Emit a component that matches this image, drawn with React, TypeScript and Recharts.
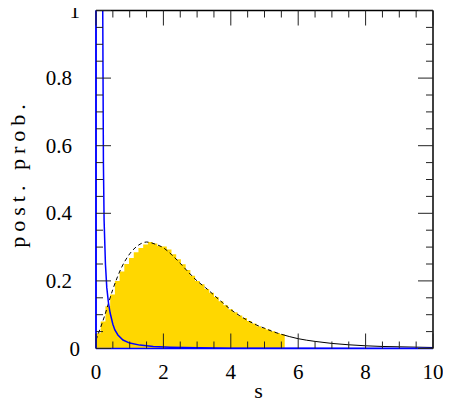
import React from 'react';
import { ComposedChart, Line, Area, XAxis, YAxis, Label } from 'recharts';

// posterior curve (black)
const postS = [0, 0.25, 0.5, 0.75, 1, 1.25, 1.5, 1.75, 2, 2.25, 2.5, 2.75, 3, 3.25, 3.5, 3.75, 4, 4.25, 4.5, 4.75, 5, 5.25, 5.5, 6, 6.5, 7, 7.5, 8, 8.5, 9, 9.5, 10];
const postProb = [0.025, 0.095, 0.175, 0.238, 0.28, 0.305, 0.315, 0.309, 0.298, 0.277, 0.252, 0.225, 0.2, 0.18, 0.158, 0.136, 0.115, 0.098, 0.083, 0.07, 0.06, 0.05, 0.042, 0.029, 0.021, 0.015, 0.011, 0.008, 0.006, 0.005, 0.004, 0.003];
const dashEnd = 5.5;

// histogram of samples (yellow), left bin edges + closing edge
const histEdges = [0, 0.14, 0.28, 0.42, 0.56, 0.7, 0.84, 0.98, 1.12, 1.26, 1.4, 1.54, 1.68, 1.82, 1.96, 2.1, 2.24, 2.38, 2.52, 2.66, 2.8, 2.94, 3.08, 3.22, 3.36, 3.5, 3.64, 3.78, 3.92, 4.06, 4.2, 4.34, 4.48, 4.62, 4.76, 4.9, 5.04, 5.18, 5.32, 5.46, 5.6];
const histProb = [0.045, 0.08, 0.125, 0.16, 0.2, 0.228, 0.25, 0.268, 0.285, 0.297, 0.308, 0.315, 0.311, 0.303, 0.302, 0.293, 0.279, 0.264, 0.249, 0.232, 0.215, 0.2, 0.19, 0.176, 0.165, 0.152, 0.14, 0.128, 0.116, 0.107, 0.098, 0.09, 0.081, 0.074, 0.066, 0.061, 0.056, 0.051, 0.046, 0.042];

// prior (blue)
const priorS = [0, 0.002, 0.19, 0.2, 0.22, 0.24, 0.28, 0.32, 0.37, 0.42, 0.5, 0.56, 0.65, 0.8, 1, 1.3, 1.7, 2.2, 3, 4, 6, 10];
const priorProb = [0, 100, 1.3, 1.0, 0.55, 0.38, 0.25, 0.18, 0.135, 0.105, 0.072, 0.055, 0.04, 0.025, 0.016, 0.01, 0.006, 0.004, 0.002, 0.001, 0.0005, 0];

const xTicks = [0, 0.5, 1, 1.5, 2, 2.5, 3, 3.5, 4, 4.5, 5, 5.5, 6, 6.5, 7, 7.5, 8, 8.5, 9, 9.5, 10];
const xMajor = [0, 2, 4, 6, 8, 10];
const yTicks = [0, 0.05, 0.1, 0.15, 0.2, 0.25, 0.3, 0.35, 0.4, 0.45, 0.5, 0.55, 0.6, 0.65, 0.7, 0.75, 0.8, 0.85, 0.9, 0.95, 1];
const yMajor = [0, 0.2, 0.4, 0.6, 0.8, 1];
const yLabels = ['0', '0.2', '0.4', '0.6', '0.8', '1'];

type Row = { s: number; hist?: number; postDash?: number; postSolid?: number; prior?: number };

const rowMap = new Map<number, Row>();
const put = (s: number, key: keyof Row, v: number) => {
  const k = Math.round(s * 1000) / 1000;
  const r = rowMap.get(k) ?? { s: k };
  (r as any)[key] = v;
  rowMap.set(k, r);
};
histEdges.forEach((s, i) => put(s, 'hist', histProb[Math.min(i, histProb.length - 1)]));
postS.forEach((s, i) => {
  if (s <= dashEnd) put(s, 'postDash', postProb[i]);
  if (s >= dashEnd) put(s, 'postSolid', postProb[i]);
});
priorS.forEach((s, i) => put(s, 'prior', priorProb[i]));
const data = Array.from(rowMap.values()).sort((a, b) => a.s - b.s);

const FONT = '"Liberation Serif", "DejaVu Serif", serif';
const TICK = '#222';
const MAJ = 15;
const MIN = 7;

const near = (list: number[], v: number) => list.findIndex((m) => Math.abs(m - v) < 1e-6);

const BottomTick = (props: any) => {
  const { x, y, payload } = props;
  const major = near(xMajor, payload.value) >= 0;
  return (
    <g>
      <line x1={x} x2={x} y1={y} y2={y - (major ? MAJ : MIN)} stroke={TICK} />
      {major &&
      <text x={x} y={y + 30} textAnchor="middle" fontFamily={FONT} fontSize={21} fill="#000">
          {payload.value}
        </text>
      }
    </g>);

};

const TopTick = (props: any) => {
  const { x, y, payload } = props;
  const major = near(xMajor, payload.value) >= 0;
  return <line x1={x} x2={x} y1={y} y2={y + (major ? MAJ : MIN)} stroke={TICK} />;
};

const LeftTick = (props: any) => {
  const { x, y, payload } = props;
  const idx = near(yMajor, payload.value);
  const major = idx >= 0;
  const label = major ? yLabels[idx] : '';
  return (
    <g>
      <line x1={x} x2={x + (major ? MAJ : MIN)} y1={y} y2={y} stroke={TICK} />
      {major &&
      <text x={label.length === 1 ? x - 16 : x - 24} y={y + 7} textAnchor="end" fontFamily={FONT} fontSize={21} fill="#000">
          {label}
        </text>
      }
    </g>);

};

const RightTick = (props: any) => {
  const { x, y, payload } = props;
  const major = near(yMajor, payload.value) >= 0;
  return <line x1={x} x2={x - (major ? MAJ : MIN)} y1={y} y2={y} stroke={TICK} />;
};

const XTitle = (props: any) => {
  const { x, y, width } = props.viewBox;
  return (
    <text x={x + width / 2 - 6} y={y + 49} textAnchor="middle" fontFamily={FONT} fontSize={22} fill="#000">
      s
    </text>);

};

const YTitle = (props: any) => {
  const { y, height } = props.viewBox;
  const cx = 25;
  const cy = y + height / 2 - 6;
  return (
    <text x={cx} y={cy} transform={`rotate(-90, ${cx}, ${cy})`} textAnchor="middle" fontFamily={FONT} fontSize={22} letterSpacing={5} fill="#000">
      post. prob.
    </text>);

};

const frame = { stroke: '#000', strokeWidth: 1.5 };
const blueFrame = { stroke: '#0000FF', strokeWidth: 1.5 };

export default function App() {
  return (
    <div style={{ width: 451, height: 404, margin: '-8px 0 0 -8px' }}>
      <ComposedChart width={451} height={404} data={data} margin={{ top: 9.5, right: 17, bottom: 54.5, left: 95 }}>
        <XAxis dataKey="s" type="number" domain={[0, 10]} ticks={xTicks} interval={0} height={1} tickSize={0} tickMargin={0} tickLine={false} axisLine={blueFrame} tick={BottomTick}>
          <Label content={XTitle} />
        </XAxis>
        <XAxis xAxisId="top" orientation="top" dataKey="s" type="number" domain={[0, 10]} ticks={xTicks} interval={0} height={1} tickSize={0} tickMargin={0} tickLine={false} axisLine={frame} tick={TopTick} />
        <YAxis type="number" domain={[0, 1]} allowDataOverflow ticks={yTicks} interval={0} width={1} tickSize={0} tickMargin={0} tickLine={false} axisLine={blueFrame} tick={LeftTick}>
          <Label content={YTitle} />
        </YAxis>
        <YAxis yAxisId="right" orientation="right" type="number" domain={[0, 1]} allowDataOverflow ticks={yTicks} interval={0} width={1} tickSize={0} tickMargin={0} tickLine={false} axisLine={frame} tick={RightTick} />
        <Area dataKey="hist" type="stepAfter" connectNulls fill="#FFD700" fillOpacity={1} stroke="none" isAnimationActive={false} dot={false} activeDot={false} />
        <Line dataKey="postDash" type="monotone" connectNulls stroke="#000" strokeWidth={1} strokeDasharray="4 3" dot={false} activeDot={false} isAnimationActive={false} />
        <Line dataKey="postSolid" type="monotone" connectNulls stroke="#000" strokeWidth={1} dot={false} activeDot={false} isAnimationActive={false} />
        <Line dataKey="prior" type="linear" connectNulls stroke="#0000FF" strokeWidth={1.5} dot={false} activeDot={false} isAnimationActive={false} />
      </ComposedChart>
    </div>);

}
